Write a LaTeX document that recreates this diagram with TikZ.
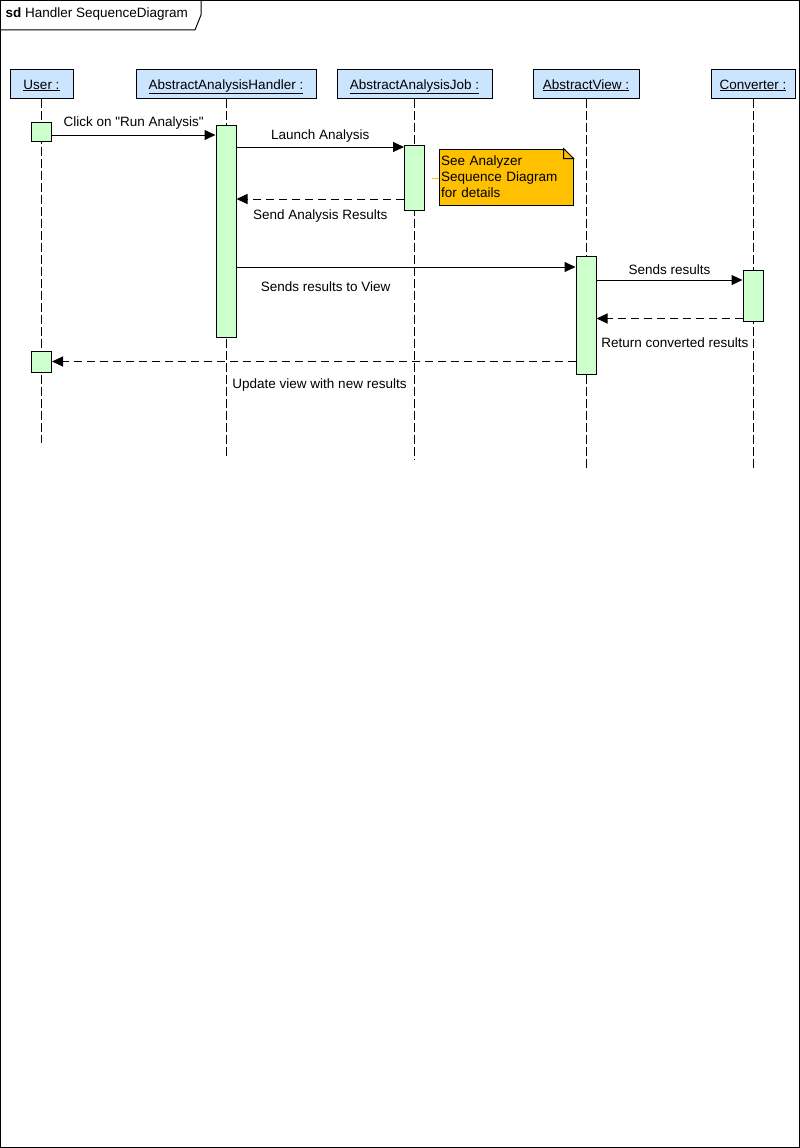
\documentclass[tikz,border=0pt]{standalone}
\usepackage{fontspec}
\setmainfont{Liberation Sans}[Ligatures=TeXOff]
\usetikzlibrary{arrows.meta}
\definecolor{headblue}{RGB}{204,229,255}
\definecolor{actgreen}{RGB}{204,255,204}
\definecolor{noteorange}{RGB}{255,192,0}
\tikzset{
  head/.style={draw, fill=headblue, minimum height=28pt, inner sep=0pt,
    text height=10pt, text depth=0pt},
  act/.style={draw, fill=actgreen, minimum width=20pt, inner sep=0pt},
  life/.style={dash pattern=on 9pt off 3pt},
  msg/.style={-{Triangle[length=11pt,width=10pt]}},
  ret/.style={msg, dash pattern=on 8pt off 5pt},
  lbl/.style={inner sep=0pt},
  notebox/.style={draw, fill=noteorange, inner sep=0pt, align=left,
    text width=130pt, minimum width=134pt, minimum height=56pt,
    font=\fontsize{13.5}{16}\selectfont}
}
\begin{document}
\begin{tikzpicture}[x=1pt,y=-1pt,line width=1pt,font=\fontsize{13.5}{15}\selectfont]
      \useasboundingbox (0,0) rectangle (800,1148);
      \draw (0.5,0.5) rectangle (799.5,1147.5);
      \draw (0.5,30) -- (195,30) -- (201,15) -- (201,0.5);
      \node[anchor=west, inner sep=0pt] (title) at (5,14.5) {\textbf{sd} Handler SequenceDiagram};
      \draw
        (41.5,84) node[head, minimum width=63pt] (user){\underline{User :}}
        (226,84) node[head, minimum width=180pt] (handler){\underline{AbstractAnalysisHandler :}}
        (414.5,84) node[head, minimum width=155pt] (job){\underline{AbstractAnalysisJob :}}
        (586,84) node[head, minimum width=106pt] (view){\underline{AbstractView :}}
        (753,84) node[head, minimum width=84pt] (conv){\underline{Converter :}};
      \coordinate (userend) at (user |- 0,443);
      \coordinate (handlerend) at (handler |- 0,457);
      \coordinate (jobend) at (job |- 0,459);
      \coordinate (viewend) at (view |- 0,468);
      \coordinate (convend) at (conv |- 0,470);
      \begin{scope}[life]
        \draw (user) to (userend);
        \draw (handler.south) to (handlerend);
        \draw (job.south) to (jobend);
        \draw (view.south) to (viewend);
        \draw (conv.south) to (convend);
      \end{scope}
      \draw
        (user |- 0,131.5) node[act, minimum height=19pt] (ua1){}
        (handler |- 0,231) node[act, minimum height=212pt] (ha){}
        (job |- 0,177.5) node[act, minimum height=65pt] (ja){}
        (view |- 0,315) node[act, minimum height=118pt] (va){}
        (conv |- 0,295.5) node[act, minimum height=51pt] (ca){}
        (user |- 0,361.5) node[act, minimum height=21pt] (ua2){};
      \node[notebox] (note) at (506,177) {See Analyzer\\Sequence Diagram\\for details};
      \fill[white] ([xshift=-10pt,yshift=1pt]note.north east) -- ([xshift=1pt,yshift=1pt]note.north east)
        -- ([xshift=1pt,yshift=-10pt]note.north east) -- cycle;
      \draw ([xshift=-10pt]note.north east) -- ([yshift=-10pt]note.north east)
        -- ([xshift=-10pt,yshift=-10pt]note.north east) -- cycle;
      \coordinate (notelink) at (432,178);
      \draw[noteorange] (notelink) -- (notelink -| note.west);
      \begin{scope}[lbl]
        \draw[msg] (ua1.east |- 0,135) -- (ha.west |- 0,135)
          node[lbl, midway, yshift=11.5pt] {Click on "Run Analysis"};
        \draw[msg] (ha.east |- 0,147) -- (ja.west |- 0,147)
          node[lbl, midway, yshift=10.5pt] {Launch Analysis};
        \draw[ret] (ja.west |- 0,199) -- (ha.east |- 0,199)
          node[lbl, midway, yshift=-17pt] {Send Analysis Results};
        \draw[msg] (ha.east |- 0,267) -- (va.west |- 0,267)
          node[lbl, pos=0.263, yshift=-19.5pt] {Sends results to View};
        \draw[msg] (va.east |- 0,280) -- (ca.west |- 0,280)
          node[lbl, midway, yshift=10.5pt] {Sends results};
        \draw[ret] (ca.west |- 0,318.5) -- (va.east |- 0,318.5)
          node[lbl, pos=0.463, yshift=-24.5pt] {Return converted results};
        \draw[ret] (va.west |- 0,361.5) -- (ua2.east |- 0,361.5)
          node[lbl, pos=0.489, yshift=-24pt] {Update view with new results};
      \end{scope}
    \end{tikzpicture}
\end{document}
